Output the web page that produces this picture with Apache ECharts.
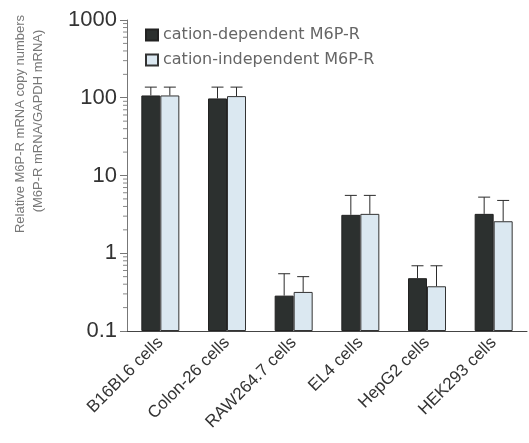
<!DOCTYPE html>
<html>
<head>
<meta charset="utf-8">
<script src="https://cdn.jsdelivr.net/npm/echarts@6/dist/echarts.min.js"></script>
<style>
  html, body { margin: 0; padding: 0; background: #fff; }
  #chart { width: 529px; height: 443px; }
</style>
</head>
<body>
<div id="chart"></div>
<script>
// cell lines
var cellLines = ['B16BL6 cells', 'Colon-26 cells', 'RAW264.7 cells', 'EL4 cells', 'HepG2 cells', 'HEK293 cells'];
// mean values
var cdValues = [107, 98, 0.285, 3.12, 0.478, 3.21];
var ciValues = [107, 105, 0.318, 3.21, 0.376, 2.58];
// top of error bars
var cdErrTop = [137, 137, 0.545, 5.55, 0.69, 5.27];
var ciErrTop = [137, 137, 0.50, 5.55, 0.69, 4.78];
// minor tick values on the log axis
var decades = [0.1, 1, 10, 100];
var minorSteps = [2, 3, 4, 5, 6, 7, 8, 9];

var seriesNames = ['cation-dependent M6P-R', 'cation-independent M6P-R'];

(function () {
    var chart = echarts.init(document.getElementById('chart'));
    var FONT = 'Liberation Sans, Arial, sans-serif';
    var barW = 19;

    var minorTicks = [];
    decades.forEach(function (d) {
        minorSteps.forEach(function (s) { minorTicks.push([0, +(d * s).toPrecision(3)]); });
    });

    function errData(means, tops) {
        return means.map(function (m, i) { return [i, tops[i], m]; });
    }

    // error bar: vertical line + cap, shifted to the bar's side
    function errRender(offset) {
        return function (params, api) {
            var top = api.coord([api.value(0), api.value(1)]);
            var base = api.coord([api.value(0), api.value(2)]);
            var x = top[0] + offset;
            var style = { stroke: '#2b2b2b', lineWidth: 1 };
            return {
                type: 'group',
                children: [
                    { type: 'line', shape: { x1: x, y1: base[1], x2: x, y2: top[1] }, style: style },
                    { type: 'line', shape: { x1: x - 6, y1: top[1], x2: x + 6, y2: top[1] }, style: style }
                ]
            };
        };
    }

    var option = {
        backgroundColor: '#fff',
        animation: false,
        grid: { left: 127, right: 2, top: 20, bottom: 112, containLabel: false },
        legend: {
            orient: 'vertical',
            left: 140,
            top: 22,
            icon: 'rect',
            itemWidth: 12,
            itemHeight: 11,
            itemGap: 9,
            data: seriesNames,
            textStyle: { fontFamily: 'DejaVu Sans, sans-serif', fontSize: 16, color: '#666' }
        },
        xAxis: {
            type: 'category',
            data: cellLines,
            axisLine: { lineStyle: { color: '#444', width: 1 } },
            axisTick: { alignWithLabel: true, length: 5, lineStyle: { color: '#444' } },
            axisLabel: { rotate: 45, margin: 9, fontFamily: FONT, fontSize: 17, color: '#333' }
        },
        yAxis: {
            type: 'log',
            logBase: 10,
            min: 0.1,
            max: 1000,
            startValue: 0.1,
            splitLine: { show: false },
            axisLine: { show: true, lineStyle: { color: '#777', width: 1 } },
            axisTick: { show: true, inside: false, length: 7, lineStyle: { color: '#777' } },
            axisLabel: {
                fontFamily: FONT, fontSize: 22, color: '#333', margin: 10,
                formatter: function (v) { return String(v); }
            }
        },
        graphic: [
            {
                type: 'text', x: 20, y: 124, rotation: Math.PI / 2,
                style: { text: 'Relative M6P-R mRNA copy numbers', fontFamily: FONT, fontSize: 13,
                    fill: '#777', textAlign: 'center', textVerticalAlign: 'middle' }
            },
            {
                type: 'text', x: 38, y: 121, rotation: Math.PI / 2,
                style: { text: '(M6P-R mRNA/GAPDH mRNA)', fontFamily: FONT, fontSize: 13,
                    fill: '#777', textAlign: 'center', textVerticalAlign: 'middle' }
            }
        ],
        series: [
            {
                name: seriesNames[0],
                type: 'bar',
                data: cdValues,
                barWidth: barW,
                barGap: '0%',
                itemStyle: { color: '#2c302f', borderColor: '#222', borderWidth: 1 }
            },
            {
                name: seriesNames[1],
                type: 'bar',
                data: ciValues,
                barWidth: barW,
                barGap: '0%',
                itemStyle: { color: '#dbe8f1', borderColor: '#333', borderWidth: 1 }
            },
            {
                type: 'custom',
                data: errData(cdValues, cdErrTop),
                encode: { x: 0, y: [1, 2] },
                renderItem: errRender(-barW / 2),
                z: 5,
                silent: true
            },
            {
                type: 'custom',
                data: errData(ciValues, ciErrTop),
                encode: { x: 0, y: [1, 2] },
                renderItem: errRender(barW / 2),
                z: 5,
                silent: true
            },
            {
                // minor log ticks
                type: 'custom',
                data: minorTicks,
                encode: { y: 1 },
                renderItem: function (params, api) {
                    var y = api.coord([0, api.value(1)])[1];
                    var x = params.coordSys.x;
                    return { type: 'line', shape: { x1: x - 4, y1: y, x2: x, y2: y },
                        style: { stroke: '#888', lineWidth: 1 } };
                },
                silent: true
            }
        ]
    };

    chart.setOption(option);
    window.addEventListener('resize', chart.resize);
})();
</script>
</body>
</html>
